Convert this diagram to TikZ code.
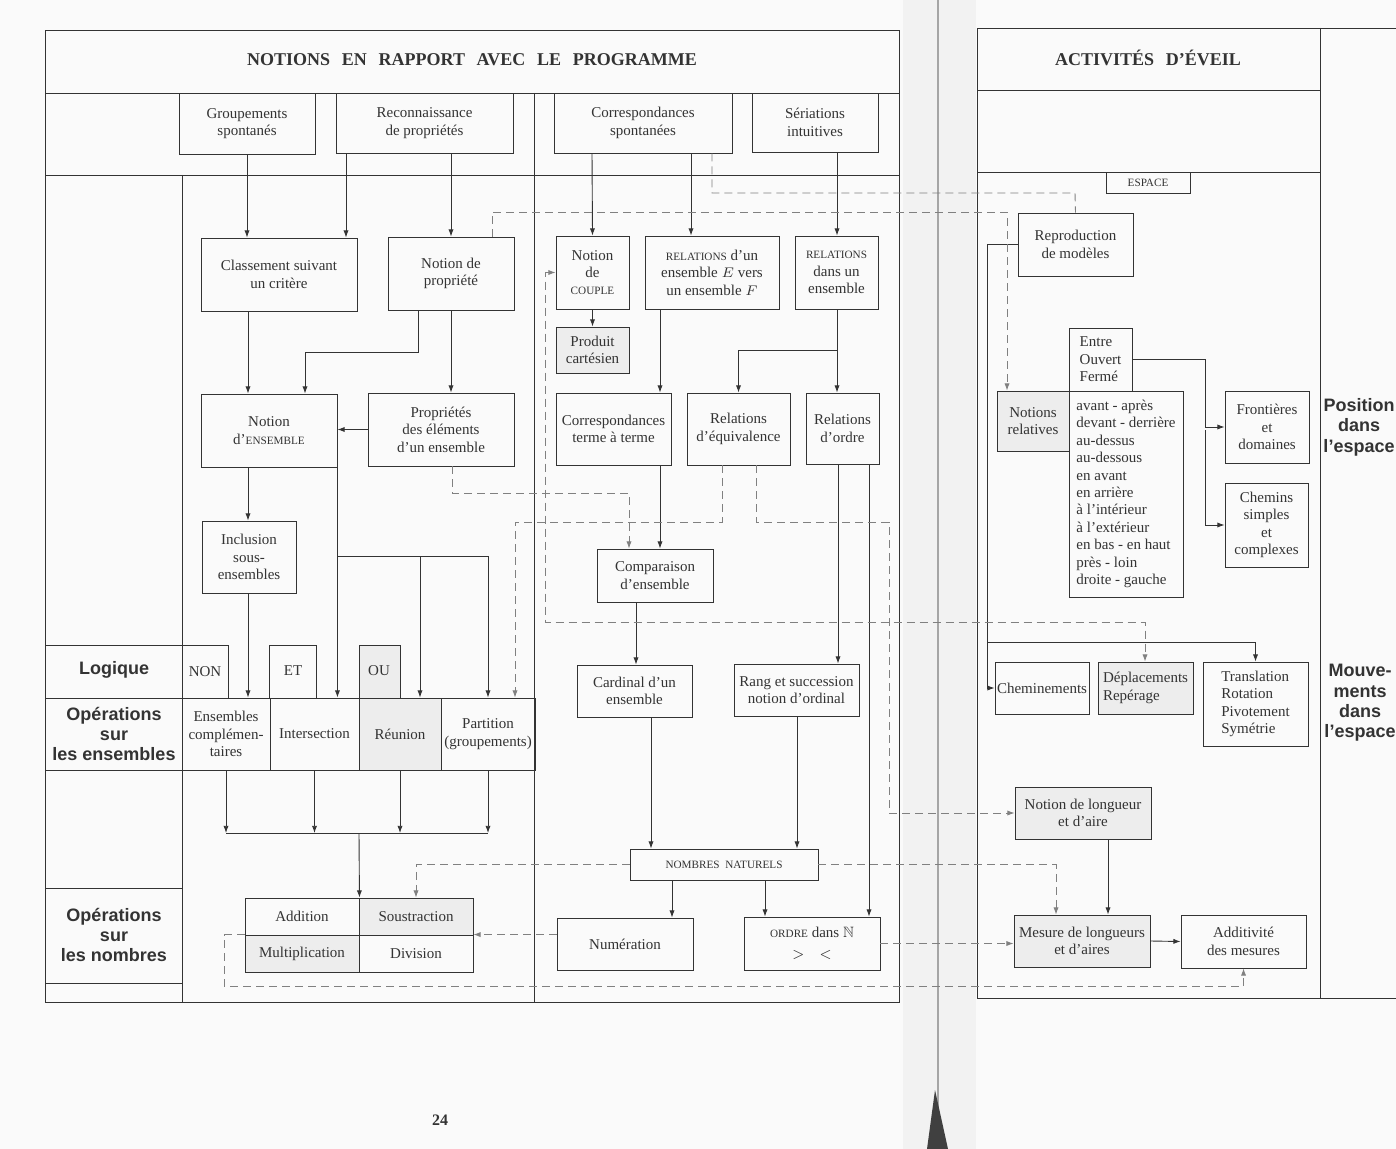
\documentclass[tikz,border=0pt]{standalone}
\usepackage{amssymb}
\usepackage{fontspec}
\setmainfont{Liberation Serif}
\setsansfont{Liberation Sans}
\usetikzlibrary{arrows.meta}
\newcommand\smc[1]{{\fontsize{5.6}{8}\selectfont #1}}
\newcommand\wsp{\hspace{0.4em} }

\begin{document}
\begin{tikzpicture}[x=0.5pt,y=-0.5pt,line width=0.45pt,color=black!80,
  font=\fontsize{7.5}{8.7}\selectfont,
  bx/.style 2 args={draw,inner sep=0pt,align=center,minimum width=#1*0.5pt,minimum height=#2*0.5pt},
  sh/.style={fill=black!7},
  lab/.style={font=\sffamily\bfseries\fontsize{9}{10}\selectfont,align=center},
  labr/.style={font=\sffamily\bfseries\fontsize{9}{10.2}\selectfont,align=center},
  dsh/.style={dash pattern=on 4pt off 2.5pt,black!50},
  >={Latex[length=3.6pt,width=2.6pt]}]
\clip (0,0) rectangle (1396,1149);
\fill[black!2] (0,0) rectangle (1396,1149);
\fill[black!5] (903,0) rectangle (976,1149);
\draw[black!35,line width=0.9pt] (938,0) -- (938,1149);
\fill[black!75] (927,1149) -- (935,1090) -- (948,1149) -- cycle;

\draw (45,30) rectangle (899,1002);
\draw (45,93) -- (899,93) (45,175) -- (899,175) (534,93) -- (534,1002) (182,175) -- (182,1002);
\draw (45,645) -- (228,645) -- (228,698);
\draw (269,698) -- (269,645) -- (316,645) -- (316,698);
\draw[sh] (359,698) rectangle (400,645);
\draw (45,698) -- (534,698) (45,770) -- (534,770);
\draw (45,888) -- (182,888) (45,983) -- (182,983);
\draw (977,998) -- (977,28) -- (1396,28) (1320,28) -- (1320,999) (977,90) -- (1320,90) (977,172) -- (1320,172) (977,998) -- (1396,998);

\node[font=\bfseries\fontsize{9}{11}\selectfont] (titre) at (472,60) {NOTIONS\wsp EN\wsp RAPPORT\wsp AVEC\wsp LE\wsp PROGRAMME};
\node[font=\bfseries\fontsize{9}{11}\selectfont] (eveil) at (1148,58) {ACTIVITÉS\wsp D’ÉVEIL};
\node[font=\bfseries\fontsize{8}{10}\selectfont] (page) at (440,1120) {24};

\node[lab] (logi) at (114,670) {Logique};
\node[lab] (opens) at (114,734) {Opérations\\sur\\les ensembles};
\node[lab] (opnb) at (114,935) {Opérations\\sur\\les nombres};
\node[labr] (posi) at (1359,427) {Position\\dans\\l’espace};
\node[labr] (mouv) at (1360,703) {Mouve-\\ments\\dans\\l’espace};

\node[bx={136}{61}] (grp) at (247,123.5) {Groupements\\spontanés};
\node[bx={177}{60}] (rec) at (424.5,123) {Reconnaissance\\de propriétés};
\node[bx={178}{60}] (corr) at (643,123) {Correspondances\\spontanées};
\node[bx={126}{59}] (ser) at (815,122.5) {Sériations\\intuitives};
\node[bx={156}{73}] (cls) at (279,274.5) {Classement suivant\\un critère};
\node[bx={126}{73}] (ndp) at (451,273.5) {Notion de\\propriété};
\node[bx={136}{73}] (nens) at (269,430.5) {Notion\\d’\smc{ENSEMBLE}};
\node[bx={146}{73}] (pee) at (441,429.5) {Propriétés\\des éléments\\d’un ensemble};
\node[bx={94}{72}] (incl) at (249,557) {Inclusion\\sous-\\ensembles};
\node (non) at (205,672) {NON};
\node (et) at (293,671) {ET};
\node (ou) at (379,671) {OU};
\node[bx={88}{72}] (ecomp) at (226,734) {Ensembles\\complémen-\\taires};
\node[bx={89}{72}] (inter) at (314.5,734) {Intersection};
\node[bx={82}{72},sh] (reun) at (400,734) {Réunion};
\node[bx={94}{72}] (part) at (488,734) {Partition\\(groupements)};
\node[bx={114}{37}] (addi) at (302,916.5) {Addition};
\node[bx={114}{37},sh] (sous) at (416,916.5) {Soustraction};
\node[bx={114}{37},sh] (mult) at (302,953.5) {Multiplication};
\node[bx={114}{37}] (divi) at (416,953.5) {Division};

\node[bx={73}{73}] (cpl) at (592.5,272.5) {Notion\\de\\\smc{COUPLE}};
\node[bx={73}{46},sh] (prod) at (592.5,350) {Produit\\cartésien};
\node[bx={134}{73}] (ref) at (712,272.5) {\smc{RELATIONS} d’un\\ensemble $E$ vers\\un ensemble $F$};
\node[bx={83}{73}] (rde) at (836.5,272.5) {\smc{RELATIONS}\\dans un\\ensemble};
\node[bx={115}{72}] (ctt) at (613.5,429) {Correspondances\\terme à terme};
\node[bx={103}{72}] (req) at (738.5,429) {Relations\\d’équivalence};
\node[bx={73}{71}] (rord) at (842.5,428.5) {Relations\\d’ordre};
\node[bx={116}{53}] (comp) at (655,575.5) {Comparaison\\d’ensemble};
\node[bx={115}{52}] (card) at (634.5,691) {Cardinal d’un\\ensemble};
\node[bx={125}{52}] (rang) at (796.5,690) {Rang et succession\\notion d’ordinal};
\node[bx={188}{31}] (nn) at (724,864.5) {\smc{NOMBRES\ \ NATURELS}};
\node[bx={136}{52}] (num) at (625,944) {Numération};
\node[bx={136}{53}] (ordre) at (812,943.5) {\smc{ORDRE} dans $\mathbb{N}$\\[2pt]$>\quad<$};

\node[bx={84}{21}] (esp) at (1148,182.5) {\smc{ESPACE}};
\node[bx={115}{63}] (repro) at (1075.5,244.5) {Reproduction\\de modèles};
\node[bx={63}{63},align=left] (eof) at (1100.5,359.5) {Entre\\Ouvert\\Fermé};
\node[bx={72}{60},sh] (nrel) at (1033,421) {Notions\\relatives};
\node[bx={114}{206},align=left] (liste) at (1126,494) {avant - après\\devant - derrière\\au-dessus\\au-dessous\\en avant\\en arrière\\à l’intérieur\\à l’extérieur\\en bas - en haut\\près - loin\\droite - gauche};
\node[bx={84}{72}] (front) at (1267,427) {Frontières\\et\\domaines};
\node[bx={83}{84}] (chem) at (1266.5,525) {Chemins\\simples\\et\\complexes};
\node[bx={94}{52}] (chm) at (1042,688) {Cheminements};
\node[bx={95}{52},sh,align=left] (depl) at (1145.5,688) {Déplacements\\Repérage};
\node[bx={105}{84},align=left] (trans) at (1255.5,704) {Translation\\Rotation\\Pivotement\\Symétrie};
\node[bx={136}{52},sh] (nlong) at (1083,813) {Notion de longueur\\et d’aire};
\node[bx={136}{52},sh] (mes) at (1082,941) {Mesure de longueurs\\et d’aires};
\node[bx={125}{53}] (addm) at (1243.5,941.5) {Additivité\\des mesures};

\draw[->] (grp.south) -- (grp.south |- cls.north);
\draw[->] (346,0 |- rec.south) -- (346,0 |- cls.north);
\draw[->] (451,0 |- rec.south) -- (ndp.north);
\draw[->] (248,0 |- cls.south) -- (248,0 |- nens.north);
\draw[->] (418,0 |- ndp.south) |- (305,352) -- (305,0 |- nens.north);
\draw[->] (451,0 |- ndp.south) -- (451,0 |- pee.north);
\draw[->] (pee.west) -- (pee.west -| nens.east);
\draw[->] (248,0 |- nens.south) -- (248,0 |- incl.north);
\draw[->] (nens.south east) -- (nens.south east |- inter.north);
\draw[->] (nens.south east |- 0,556) -| (420,0 |- reun.north);
\draw[->] (420,556) -| (part.north);
\draw[->] (248,0 |- incl.south) -- (248,0 |- ecomp.north);
\foreach \c in {ecomp,inter,reun,part} \draw[->] (\c.south) -- (\c.south |- 0,833);
\draw (ecomp.south |- 0,833) -- (part.south |- 0,833);
\draw[->] (359,833) -- (addi.north east);

\draw[->] (592,0 |- corr.south) -- (cpl.north);
\draw[->] (691,0 |- corr.south) -- (691,0 |- ref.north);
\draw[->] (837,0 |- ser.south) -- (837,0 |- rde.north);
\draw[->] (cpl.south) -- (prod.north);
\draw[->] (660,0 |- ref.south) -- (660,0 |- ctt.north);
\draw[->] (837,0 |- rde.south) -- (837,0 |- rord.north);
\draw[->] (837,350) -| (req.north);
\draw[->] (660,0 |- ctt.south) -- (660,0 |- comp.north);
\draw[->] (636,0 |- comp.south) -- (636,0 |- card.north);
\draw[->] (838,0 |- rord.south) -- (838,0 |- rang.north);
\draw[->] (869,0 |- rord.south) -- (869,0 |- ordre.north);
\draw[->] (651,0 |- card.south) -- (651,0 |- nn.north);
\draw[->] (797,0 |- rang.south) -- (797,0 |- nn.north);
\draw[->] (672,0 |- nn.south) -- (672,0 |- num.north);
\draw[->] (765,0 |- nn.south) -- (765,0 |- ordre.north);

\draw[->] (repro.west) -- (987,0 |- repro.west) |- (chm.west);
\draw[->] (987,642) -| (trans.north);
\draw[->] (eof.east) -- (1205,0 |- eof.east) |- (front.west);
\draw[->] (1205,430) |- (chem.west);
\draw[->] (1108,0 |- nlong.south) -- (1108,0 |- mes.north);
\draw[->] (mes.east) -- (addm.west);

\draw[dsh] (712,0 |- corr.south) |- (1075,193) -- (repro.north);
\draw[dsh,->] (492,0 |- ndp.north) |- (1007,212) -- (1007,0 |- nrel.north);
\draw[dsh,<->] (cpl.west) -- (545,0 |- cpl.west) |- (1145,622) -- (1145,0 |- depl.north);
\draw[dsh,->] (452,0 |- pee.south) |- (629,493) -- (629,0 |- comp.north);
\draw[dsh,->] (722,0 |- req.south) |- (515,522) -- (515,0 |- part.north);
\draw[dsh,->] (756,0 |- req.south) |- (889,522) -- (889,0 |- nlong.west) -- (nlong.west);
\draw[dsh,->] (nn.west) -| (sous.north);
\draw[dsh,->] (nn.east) -| (1056,0 |- mes.north);
\draw[dsh,->] (ordre.east) -- (ordre.east -| mes.west);
\draw[dsh,->] (num.west |- divi.north east) -- (divi.north east);
\draw[dsh,->] (mult.north west) -| (224,986) -| (addm.south);
\end{tikzpicture}
\end{document}
